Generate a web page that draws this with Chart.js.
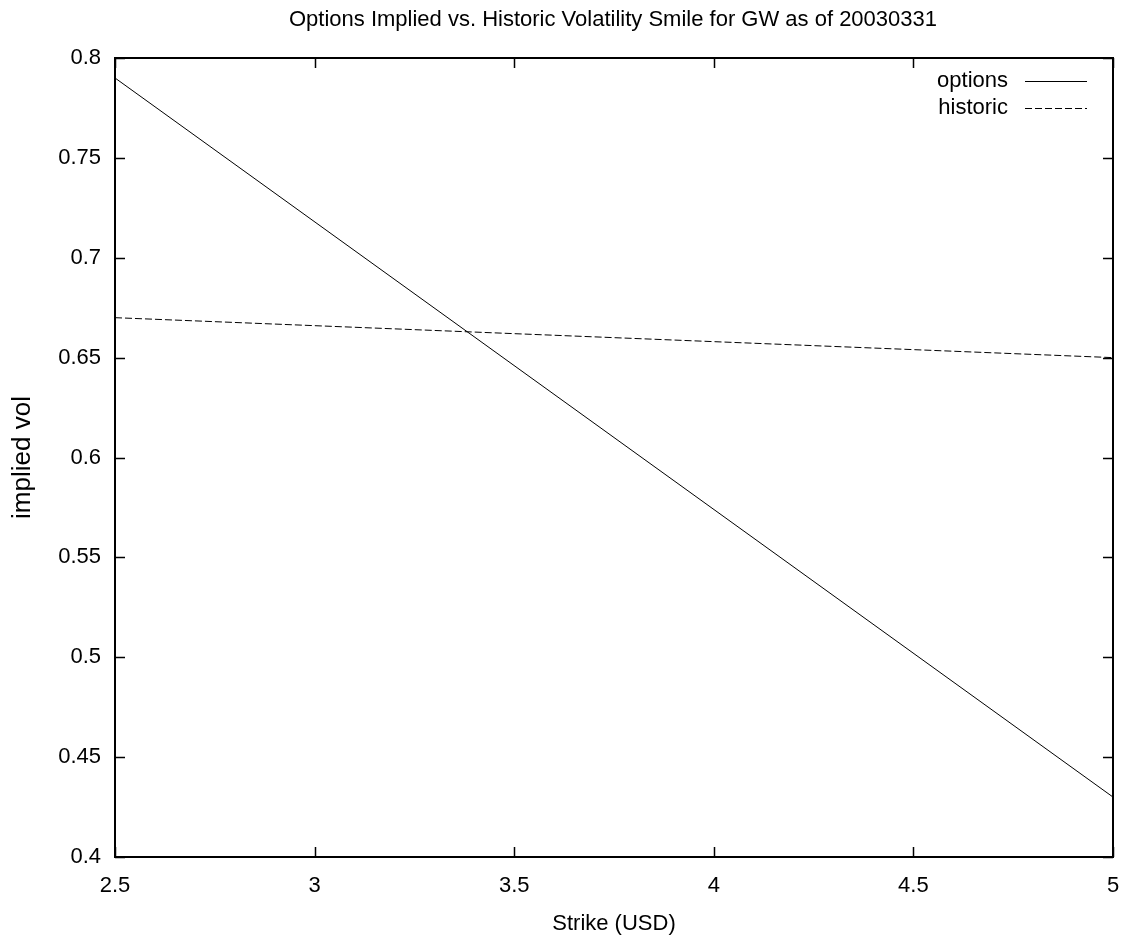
<!DOCTYPE html>
<html>
<head>
<meta charset="utf-8">
<script src="https://cdn.jsdelivr.net/npm/chart.js@4.4.1/dist/chart.umd.min.js"></script>
<style>
  html, body { margin: 0; padding: 0; background: #fff; }
  #wrap { width: 1126px; height: 944px; }
</style>
</head>
<body>
<div id="wrap"><canvas id="c" width="1126" height="944"></canvas></div>
<script>
const chartTitle = 'Options Implied vs. Historic Volatility Smile for GW as of 20030331';
const xAxisTitle = 'Strike (USD)';
const yAxisTitle = 'implied vol';

const strikes = [2.5, 5];
const optionsVol = [0.79, 0.43];
const historicVol = [0.67, 0.65];

const xTicks = [2.5, 3, 3.5, 4, 4.5, 5];
const xTickLabels = ['2.5', '3', '3.5', '4', '4.5', '5'];
const yTicks = [0.4, 0.45, 0.5, 0.55, 0.6, 0.65, 0.7, 0.75, 0.8];
const yTickLabels = ['0.4', '0.45', '0.5', '0.55', '0.6', '0.65', '0.7', '0.75', '0.8'];

const FONT = "'Liberation Sans', Arial, Helvetica, sans-serif";
const FS = 22;

const toPoints = (xs, ys) => xs.map((x, i) => ({ x: x, y: ys[i] }));

const framePlugin = {
  id: 'frame',
  afterDraw(chart) {
    const { ctx, chartArea: a, scales } = chart;
    ctx.save();
    ctx.strokeStyle = '#000';
    // ticks (mirrored, inward)
    ctx.lineWidth = 1.5;
    const tl = 10;
    ctx.beginPath();
    scales.x.ticks.forEach(t => {
      const px = Math.round(scales.x.getPixelForValue(t.value)) + 0.5;
      ctx.moveTo(px, a.bottom); ctx.lineTo(px, a.bottom - tl);
      ctx.moveTo(px, a.top); ctx.lineTo(px, a.top + tl);
    });
    scales.y.ticks.forEach(t => {
      const py = Math.round(scales.y.getPixelForValue(t.value)) + 0.5;
      ctx.moveTo(a.left, py); ctx.lineTo(a.left + tl, py);
      ctx.moveTo(a.right, py); ctx.lineTo(a.right - tl, py);
    });
    ctx.stroke();
    // border
    ctx.lineWidth = 2;
    ctx.strokeRect(a.left, a.top, a.right - a.left, a.bottom - a.top);
    // title
    ctx.fillStyle = '#000';
    ctx.font = FS + 'px ' + FONT;
    ctx.textAlign = 'center';
    ctx.textBaseline = 'middle';
    ctx.fillText(chartTitle, (a.left + a.right) / 2 - 1, 20);
    // legend (gnuplot style: text right-aligned, then line sample)
    chart.data.datasets.forEach((ds, i) => {
      const y = 81 + i * 27;
      ctx.textAlign = 'right';
      ctx.fillText(ds.label, 1008, y);
      ctx.save();
      ctx.lineWidth = 1;
      ctx.setLineDash(ds.borderDash || []);
      ctx.beginPath();
      ctx.moveTo(1025, Math.round(y) + 0.5);
      ctx.lineTo(1087, Math.round(y) + 0.5);
      ctx.stroke();
      ctx.restore();
    });
    ctx.restore();
  }
};

new Chart(document.getElementById('c'), {
  type: 'scatter',
  data: {
    datasets: [
      {
        label: 'options',
        data: toPoints(strikes, optionsVol),
        showLine: true,
        borderColor: '#000',
        borderWidth: 1,
        pointRadius: 0,
        fill: false
      },
      {
        label: 'historic',
        data: toPoints(strikes, historicVol),
        showLine: true,
        borderColor: '#000',
        borderWidth: 1,
        borderDash: [7, 3],
        pointRadius: 0,
        fill: false
      }
    ]
  },
  options: {
    responsive: false,
    animation: false,
    devicePixelRatio: 1,
    layout: { padding: { top: 58, right: 13, left: 0, bottom: 0 } },
    plugins: {
      legend: { display: false },
      title: { display: false },
      tooltip: { enabled: false }
    },
    scales: {
      x: {
        type: 'linear',
        min: 2.5,
        max: 5,
        afterBuildTicks: s => { s.ticks = xTicks.map(v => ({ value: v })); },
        afterFit: s => { s.height = 87; s.paddingLeft = 0; s.paddingRight = 0; },
        grid: { display: false, drawTicks: false },
        border: { display: false },
        ticks: {
          color: '#000',
          padding: 16,
          maxRotation: 0,
          autoSkip: false,
          font: { family: FONT, size: FS },
          callback: (v, i) => xTickLabels[i]
        },
        title: {
          display: true,
          text: xAxisTitle,
          color: '#000',
          font: { family: FONT, size: FS },
          padding: { top: 0, bottom: 7 }
        }
      },
      y: {
        type: 'linear',
        min: 0.4,
        max: 0.8,
        afterBuildTicks: s => { s.ticks = yTicks.map(v => ({ value: v })); },
        afterFit: s => { s.width = 115; s.paddingTop = 0; s.paddingBottom = 0; },
        grid: { display: false, drawTicks: false },
        border: { display: false },
        ticks: {
          color: '#000',
          padding: 14,
          autoSkip: false,
          font: { family: FONT, size: FS },
          callback: (v, i) => yTickLabels[i]
        },
        title: {
          display: true,
          text: yAxisTitle,
          color: '#000',
          font: { family: FONT, size: 26 },
          padding: { top: 7, bottom: 0 }
        }
      }
    }
  },
  plugins: [framePlugin]
});
</script>
</body>
</html>
